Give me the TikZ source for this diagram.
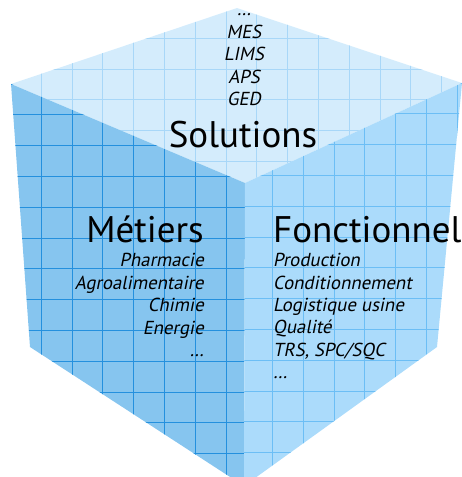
\documentclass[tikz,border=0pt]{standalone}
\usepackage{fontspec}
\setmainfont{PT Sans}
\newfontfamily\slantfont[FakeSlant=0.2]{PT Sans}
\usepackage{xcolor}
\usepackage{tikz}
\usetikzlibrary{positioning}

\definecolor{topfill}{RGB}{212,236,252}
\definecolor{topline}{RGB}{168,215,248}
\definecolor{leftfill}{RGB}{134,197,239}
\definecolor{leftline}{RGB}{36,144,222}
\definecolor{rightfill}{RGB}{171,219,251}
\definecolor{rightline}{RGB}{108,190,245}

\tikzset{
  gridline/.style={line width=1pt},
  title/.style={font=\fontsize{37}{40}\selectfont, inner sep=0pt},
  item/.style={font=\fontsize{18.8}{22}\slantfont, inner sep=0pt}
}

\begin{document}
\begin{tikzpicture}[x=1pt,y=-1pt]
\useasboundingbox (0,0) rectangle (462,477);

% corners of the cube
\coordinate (T) at (237,8);
\coordinate (L) at (11,84);
\coordinate (F) at (245,183);
\coordinate (R) at (462,83);
\coordinate (BL) at (30,347);
\coordinate (BR) at (437,347);
\coordinate (B) at (244,486);

%Top face
\begin{scope}
\clip (T) -- (R) -- (F) -- (L) -- cycle;
\fill[topfill] (0,0) rectangle (462,477);
\foreach \i in {0,...,15} \draw[gridline, topline] ({10.5+30.8*\i},0) -- ++(0,477);
\foreach \i in {0,...,15} \draw[gridline, topline] (0,{7.5+30.8*\i}) -- ++(462,0);
\end{scope}

%Left face
\begin{scope}
\clip (L) -- (F) -- (B) -- (BL) -- cycle;
\fill[leftfill] (0,0) rectangle (462,477);
\foreach \i in {0,...,15} \draw[gridline, leftline] ({10.5+30.8*\i},0) -- ++(0,477);
\foreach \i in {0,...,15} \draw[gridline, leftline] (0,{22.4+30.8*\i}) -- ++(462,0);
\end{scope}

%Right face
\begin{scope}
\clip (F) -- (R) -- (BR) -- (B) -- cycle;
\fill[rightfill] (0,0) rectangle (462,477);
\foreach \i in {0,...,15} \draw[gridline, rightline] ({26+30.8*\i},0) -- ++(0,477);
\foreach \i in {0,...,15} \draw[gridline, rightline] (0,{21.4+30.8*\i}) -- ++(462,0);
\end{scope}

% Text Node
\foreach \t [count=\i] in {…, MES, LIMS, APS, GED}
  \node[item, anchor=base] (sol\i) at (244,{-7+22.5*\i}) {\t};
% Text Node
\node[title, anchor=base] (sol) at (243,147) {Solutions};
% Text Node
\node[title, anchor=base east] (met) at (204,242) {Métiers};
\foreach \t [count=\i] in {Pharmacie, Agroalimentaire, Chimie, Energie, …}
  \node[item, anchor=base east] (met\i) at (204,{244.5+22.4*\i}) {\t};
% Text Node
\node[title, anchor=base west] (fon) at (273,242) {Fonctionnel};
\foreach \t [count=\i] in {Production, Conditionnement, Logistique usine, Qualité, {TRS, SPC/SQC}, …}
  \node[item, anchor=base west] (fon\i) at (273,{244.5+22.3*\i}) {\t};

\end{tikzpicture}
\end{document}
